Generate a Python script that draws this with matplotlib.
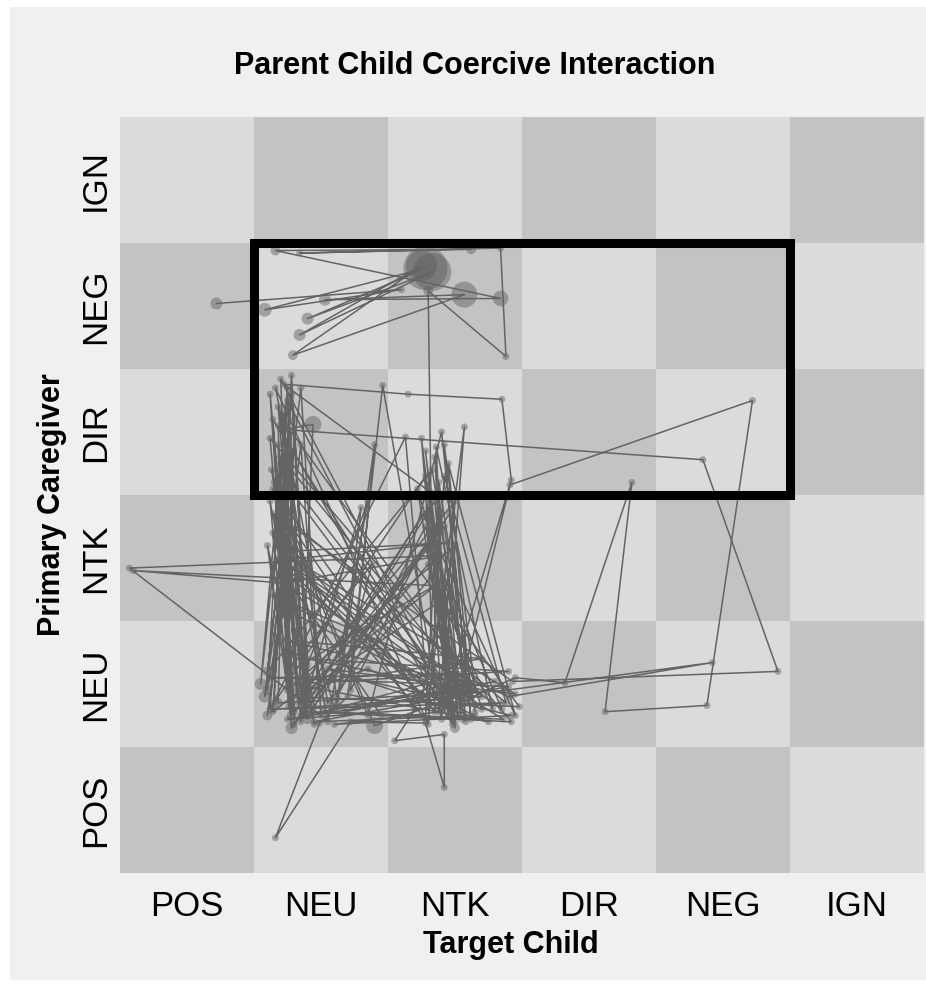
import numpy as np
import matplotlib.pyplot as plt
from matplotlib.patches import Rectangle

plt.rcParams['font.family'] = ['Liberation Sans', 'DejaVu Sans']

states = ['POS', 'NEU', 'NTK', 'DIR', 'NEG', 'IGN']

# trajectory: child state (x), caregiver state (y), in grid units; dur = event duration
traj_x = [0.72, 2.10, 1.08, 2.28, 1.40, 2.33, 1.34, 2.25, 1.29, 2.57,
          1.53, 2.84, 1.16, 2.62, 1.34, 2.84, 2.88, 2.30, 2.32, 1.22,
          2.15, 2.85, 2.92, 2.50, 1.20, 1.28, 1.12, 1.35, 1.44, 1.22,
          4.35, 4.91, 2.93, 1.15, 1.30, 1.18, 1.25, 1.10, 1.40, 1.22,
          1.33, 2.30, 2.45, 2.35, 2.55, 2.28, 1.30, 1.15, 1.45, 1.20,
          2.40, 2.25, 2.50, 1.25, 1.38, 1.12, 1.28, 2.42, 2.60, 2.33,
          1.10, 1.35, 1.50, 0.07, 2.40, 1.22, 0.10, 2.35, 2.48, 1.18,
          1.26, 1.14, 2.28, 2.38, 2.65, 2.45, 1.32, 1.20, 1.55, 1.85,
          1.40, 1.28, 1.12, 2.13, 2.30, 2.57, 2.40, 1.96, 1.70, 1.49,
          1.16, 1.72, 2.28, 2.42, 2.42, 2.05, 2.20, 1.25, 1.32, 2.50,
          2.38, 2.95, 3.32, 3.82, 3.62, 4.38, 4.72, 2.91, 2.45, 2.30,
          2.55, 1.15, 2.90, 4.42, 2.88, 1.18, 1.24, 1.36, 2.32, 2.48,
          2.28, 2.52, 1.30, 1.08, 1.20, 2.85, 2.40, 2.55, 1.14, 1.30,
          2.26, 2.95, 2.45, 2.62, 1.17, 1.45, 1.13, 1.60, 1.88, 1.25,
          1.30, 1.40, 2.35, 2.50, 2.22, 2.70, 1.22, 1.10, 1.35, 1.48,
          2.30, 2.58, 2.42, 2.65, 1.90, 1.20, 1.05, 1.25, 1.38, 2.92,
          1.12, 1.30, 1.22, 2.35, 2.28, 1.15, 1.28, 1.42, 2.46, 2.62,
          2.40, 1.85, 1.14, 2.25, 2.50, 1.35, 1.18, 1.55, 2.32, 2.78,
          2.36, 2.45, 1.26, 2.60, 1.20, 1.10, 1.32, 2.88, 2.42, 2.30,
          1.16, 1.62, 2.28, 2.55, 1.24, 1.30, 2.38, 1.14, 1.28, 2.70,
          1.15, 2.85, 1.25, 2.60, 1.40, 2.90, 1.30, 2.75, 1.55, 2.95,
          1.20, 2.45, 1.18, 2.40, 1.60, 2.92, 1.75, 2.70, 1.22, 2.50,
          1.68, 2.80, 1.35, 1.80, 1.62, 1.90, 1.72, 2.20, 2.98, 1.28,
          1.85, 2.65, 1.45, 2.90, 1.12, 2.55, 1.52, 2.86, 1.30, 1.95]

traj_y = [4.52, 4.63, 4.47, 4.80, 4.40, 4.77, 4.27, 4.82, 4.11, 4.59,
          4.55, 4.56, 4.94, 4.95, 4.92, 4.96, 4.10, 4.62, 3.02, 3.88,
          3.80, 3.76, 3.12, 1.30, 3.92, 1.25, 3.80, 1.20, 3.56, 3.52,
          3.28, 1.60, 1.52, 2.85, 1.30, 3.40, 1.45, 2.60, 1.22, 3.65,
          1.35, 2.90, 1.25, 3.30, 1.30, 2.60, 1.28, 3.10, 1.18, 2.40,
          1.40, 3.45, 1.20, 3.75, 1.50, 2.95, 1.15, 2.75, 1.35, 3.20,
          1.60, 3.85, 1.25, 2.42, 2.52, 2.30, 2.40, 2.28, 1.18, 3.55,
          1.32, 2.70, 1.22, 3.10, 1.28, 2.20, 1.40, 3.25, 1.20, 2.95,
          1.65, 3.80, 1.30, 3.46, 1.35, 3.54, 1.22, 3.87, 1.40, 1.19,
          0.28, 1.20, 1.19, 0.68, 1.10, 1.05, 1.30, 2.80, 1.45, 2.95,
          1.28, 1.55, 1.51, 3.10, 1.28, 1.33, 3.75, 3.08, 1.45, 3.05,
          1.40, 2.20, 1.40, 1.67, 1.45, 1.35, 3.70, 1.25, 2.65, 1.33,
          3.35, 1.26, 3.00, 1.40, 2.55, 1.30, 2.40, 1.22, 3.60, 1.18,
          2.85, 1.25, 3.25, 1.38, 2.50, 1.32, 3.20, 1.30, 2.45, 1.60,
          3.60, 1.35, 2.95, 1.15, 3.05, 1.30, 2.10, 1.25, 3.40, 1.42,
          2.45, 1.20, 3.40, 1.45, 1.17, 2.95, 1.50, 3.85, 1.28, 1.20,
          3.45, 1.22, 2.65, 1.28, 3.15, 1.35, 3.95, 1.28, 2.85, 1.22,
          3.50, 1.25, 3.05, 1.38, 2.60, 1.55, 3.70, 1.35, 2.35, 1.30,
          3.38, 1.30, 2.45, 1.48, 3.30, 1.45, 2.75, 1.35, 3.15, 1.18,
          3.85, 1.40, 2.75, 1.35, 3.15, 1.62, 2.30, 1.28, 3.50, 1.40,
          1.30, 1.35, 1.22, 1.45, 1.70, 1.60, 1.50, 1.20, 1.62, 1.42,
          2.55, 2.62, 2.48, 1.28, 1.18, 1.25, 1.55, 1.70, 1.85, 1.52,
          1.28, 1.52, 1.25, 2.90, 1.35, 3.40, 1.45, 2.45, 1.32, 1.40,
          1.62, 1.25, 1.20, 1.48, 1.55, 1.58, 1.28, 1.22, 2.25, 1.25]

dur = [3, 1, 4, 40, 3, 30, 3, 20, 2, 14,
       3, 5, 2, 2, 1, 1, 1, 2, 1, 1,
       1, 1, 1, 1, 1, 2, 1, 1, 6, 1,
       1, 1, 1, 1, 1, 1, 1, 1, 2, 1,
       1, 1, 1, 1, 1, 1, 1, 1, 1, 1,
       1, 1, 1, 1, 1, 1, 3, 1, 1, 1,
       2, 1, 1, 1, 1, 1, 1, 1, 1, 1,
       1, 1, 1, 1, 1, 1, 1, 1, 1, 1,
       1, 1, 1, 1, 1, 1, 1, 1, 1, 1,
       1, 1, 1, 1, 1, 1, 1, 1, 1, 1,
       1, 1, 1, 1, 1, 1, 1, 1, 1, 1,
       1, 1, 1, 1, 1, 2, 1, 1, 1, 1,
       1, 1, 1, 3, 1, 1, 1, 1, 1, 1,
       1, 1, 1, 1, 1, 1, 1, 1, 1, 1,
       1, 1, 1, 2, 1, 1, 1, 2, 1, 1,
       1, 1, 1, 1, 6, 1, 3, 1, 1, 1,
       1, 1, 1, 1, 1, 1, 1, 1, 1, 1,
       1, 1, 1, 1, 1, 2, 1, 1, 1, 1,
       1, 1, 1, 1, 1, 2, 1, 1, 1, 1,
       1, 1, 1, 1, 1, 1, 1, 1, 1, 1,
       1, 1, 1, 1, 1, 1, 1, 1, 1, 1,
       1, 1, 1, 1, 1, 1, 1, 1, 1, 1,
       1, 1, 1, 1, 1, 1, 1, 1, 1, 1,
       1, 1, 1, 1, 1, 1, 1, 1, 1, 1]

fig = plt.figure(figsize=(9.26, 9.85), dpi=100, facecolor='white')
fig.patches.append(Rectangle((10 / 926, 5 / 985), 916 / 926, 973 / 985,
                             transform=fig.transFigure, facecolor='#f0f0f0',
                             edgecolor='none', zorder=-10))

ax = fig.add_axes([120 / 926, 112 / 985, 804 / 926, 756 / 985])
n = len(states)
for i in range(n):
    for j in range(n):
        c = '#c3c3c3' if (i + j) % 2 == 0 else '#dbdbdb'
        ax.add_patch(Rectangle((i, j), 1, 1, facecolor=c, edgecolor='none', zorder=0))

ax.scatter(traj_x, traj_y, s=np.array(dur) * 25, color='#5c5c5c', alpha=0.45,
           edgecolors='none', zorder=2)
ax.plot(traj_x, traj_y, color='#646464', lw=1.1, zorder=3)

# highlighted region: child NEU..NEG, caregiver DIR..NEG
x0, x1 = states.index('NEU'), states.index('NEG') + 1
y0, y1 = states.index('DIR'), states.index('NEG') + 1
ax.add_patch(Rectangle((x0, y0), x1 - x0, y1 - y0, fill=False,
                       edgecolor='black', lw=6.5, zorder=5))

ax.set_xlim(0, n)
ax.set_ylim(0, n)
ax.set_xticks(np.arange(n) + 0.5)
ax.set_yticks(np.arange(n) + 0.5)
ax.set_xticklabels(states, fontsize=25)
ax.set_yticklabels(states, fontsize=25, rotation=90, va='center')
ax.tick_params(length=0)
ax.tick_params(axis='x', pad=12)
ax.tick_params(axis='y', pad=6)
for s in ax.spines.values():
    s.set_visible(False)

ax.set_xlabel('Target Child', fontsize=22, fontweight='bold', va='center')
ax.xaxis.set_label_coords(0.486, -0.095)
ax.set_ylabel('Primary Caregiver', fontsize=22, fontweight='bold', va='center')
ax.yaxis.set_label_coords(-0.085, 0.487)

fig.text(475 / 926, 1 - 66 / 985, 'Parent Child Coercive Interaction',
         fontsize=22, fontweight='bold', ha='center', va='center')

fig.savefig('out.png', dpi=100, facecolor=fig.get_facecolor())
